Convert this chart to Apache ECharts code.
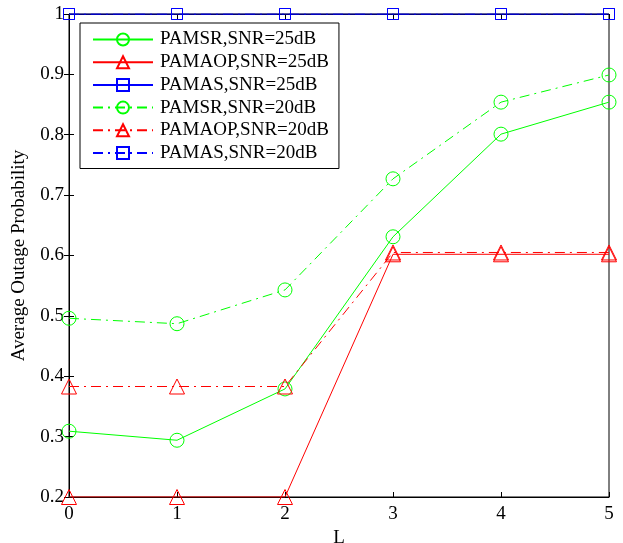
<!DOCTYPE html>
<html>
<head>
<meta charset="utf-8">
<script src="https://cdn.jsdelivr.net/npm/echarts@6/dist/echarts.min.js"></script>
<style>
  html, body { margin: 0; padding: 0; background: #fff; }
  #chart { width: 623px; height: 543px; }
</style>
</head>
<body>
<div id="chart"></div>
<script>
const L = [0, 1, 2, 3, 4, 5]
const pamsr25 = [0.309, 0.294, 0.379, 0.631, 0.801, 0.854]
const pamaop25 = [0.2, 0.2, 0.2, 0.602, 0.602, 0.602]
const pamas25 = [1, 1, 1, 1, 1, 1]
const pamsr20 = [0.496, 0.487, 0.543, 0.727, 0.854, 0.899]
const pamaop20 = [0.383, 0.383, 0.383, 0.605, 0.605, 0.605]
const pamas20 = [1, 1, 1, 1, 1, 1]

const dashDot = [10, 5, 2, 5]
const font = 'Liberation Serif'

function mk(name, data, color, symbol, size, dashed) {
  return {
    name,
    type: 'line',
    data: L.map((x, i) => [x, data[i]]),
    symbol,
    symbolSize: size,
    showAllSymbol: true,
    lineStyle: { color, width: 1, type: dashed ? dashDot : 'solid' },
    itemStyle: { color: 'transparent', borderColor: color, borderWidth: 1 },
    emphasis: { disabled: true },
    animation: false
  }
}

const chart = echarts.init(document.getElementById('chart'))
const tickStyle = { show: true, inside: true, length: 5, lineStyle: { color: '#000' } }
chart.setOption({
  backgroundColor: '#fff',
  textStyle: { fontFamily: font },
  grid: { left: 69, right: 14, top: 14, bottom: 46, outerBoundsMode: 'none', show: true, borderColor: '#000', borderWidth: 1 },
  legend: {
    left: 80, top: 23,
    orient: 'vertical',
    itemWidth: 60, itemHeight: 15, itemGap: 3.7,
    padding: [7, 10, 6, 12],
    borderColor: '#000', borderWidth: 1,
    backgroundColor: '#fff',
    textStyle: { fontFamily: font, fontSize: 19, lineHeight: 19, color: '#000', padding: [0, 0, 0, 2] },
    data: ['PAMSR,SNR=25dB', 'PAMAOP,SNR=25dB', 'PAMAS,SNR=25dB', 'PAMSR,SNR=20dB', 'PAMAOP,SNR=20dB', 'PAMAS,SNR=20dB']
  },
  xAxis: [{
    type: 'value', min: 0, max: 5, interval: 1,
    name: 'L', nameLocation: 'middle', nameGap: 31,
    nameTextStyle: { fontFamily: font, fontSize: 19, color: '#000' },
    axisLine: { lineStyle: { color: '#000' } },
    axisTick: tickStyle,
    axisLabel: { fontFamily: font, fontSize: 19, color: '#000', margin: 8 },
    splitLine: { show: false }
  }, {
    type: 'value', min: 0, max: 5, interval: 1, position: 'top',
    axisLine: { lineStyle: { color: '#000' } },
    axisTick: tickStyle, axisLabel: { show: false }, splitLine: { show: false }
  }],
  yAxis: [{
    type: 'value', min: 0.2, max: 1, interval: 0.1,
    name: 'Average Outage Probability', nameLocation: 'middle', nameGap: 40,
    nameTextStyle: { fontFamily: font, fontSize: 19, color: '#000' },
    axisLine: { lineStyle: { color: '#000' } },
    axisTick: tickStyle,
    axisLabel: { fontFamily: font, fontSize: 19, color: '#000', margin: 5,
      formatter: v => String(Math.round(v * 10) / 10) },
    splitLine: { show: false }
  }, {
    type: 'value', min: 0.2, max: 1, interval: 0.1, position: 'right',
    axisLine: { lineStyle: { color: '#000' } },
    axisTick: tickStyle, axisLabel: { show: false }, splitLine: { show: false }
  }],
  series: [
    mk('PAMSR,SNR=25dB', pamsr25, '#00ff00', 'circle', 14, false),
    mk('PAMAOP,SNR=25dB', pamaop25, '#ff0000', 'triangle', 15, false),
    mk('PAMAS,SNR=25dB', pamas25, '#0000ff', 'rect', 11, false),
    mk('PAMSR,SNR=20dB', pamsr20, '#00ff00', 'circle', 14, true),
    mk('PAMAOP,SNR=20dB', pamaop20, '#ff0000', 'triangle', 15, true),
    mk('PAMAS,SNR=20dB', pamas20, '#0000ff', 'rect', 11, true)
  ]
})
</script>
</body>
</html>
